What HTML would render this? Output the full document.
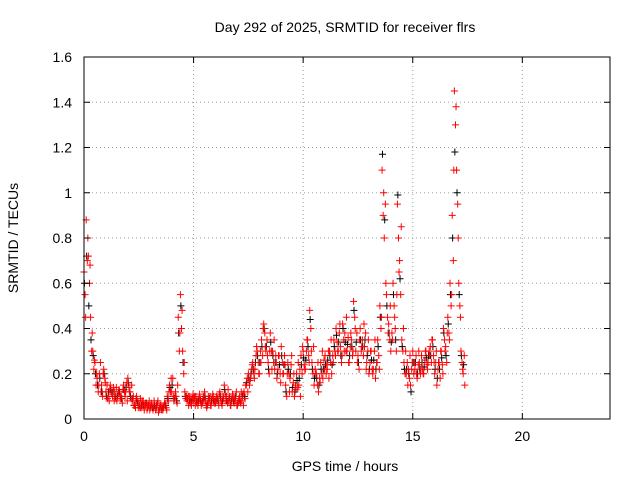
<!DOCTYPE html>
<html><head><meta charset="utf-8">
<style>
body{margin:0;background:#fff;}
svg{display:block;font-family:"Liberation Sans",sans-serif;}
</style></head>
<body>
<svg id="chart" width="640" height="480">
<text x="345" y="32" font-size="14" text-anchor="middle">Day 292 of 2025, SRMTID for receiver flrs</text>
<text x="345" y="471" font-size="14" text-anchor="middle">GPS time / hours</text>
<text x="18" y="238" font-size="14" text-anchor="middle" transform="rotate(-90 18 238)">SRMTID / TECUs</text>
<g id="grid"></g><g id="marks"></g><g id="axes"></g>
</svg>
<script>
const xTicks=[0,5,10,15,20];
const yTicks=[0,0.2,0.4,0.6,0.8,1,1.2,1.4,1.6];
const yTickLabels=["0","0.2","0.4","0.6","0.8","1","1.2","1.4","1.6"];
const tStart=0, tStep=0.1;
const redA=[0.65,0.88,0.72,0.45,0.3,0.25,0.18,0.2,0.15,0.22,
0.12,0.1,0.15,0.1,0.12,0.08,0.13,0.1,0.15,0.12,
0.18,0.12,0.08,0.06,0.1,0.07,0.05,0.08,0.06,0.05,
0.04,0.06,0.08,0.05,0.03,0.06,0.04,0.07,0.1,0.15,
0.12,0.08,0.1,0.45,0.55,0.3,0.12,0.08,0.1,0.06,
0.08,0.1,0.06,0.09,0.07,0.12,0.05,0.08,0.06,0.1,
0.07,0.09,0.12,0.06,0.15,0.1,0.08,0.06,0.1,0.08,
0.06,0.1,0.08,0.12,0.15,0.2,0.18,0.25,0.22,0.3,
0.2,0.35,0.42,0.3,0.25,0.38,0.3,0.22,0.18,0.28,
0.32,0.2,0.15,0.25,0.18,0.12,0.1,0.2,0.15,0.28,
0.3,0.22,0.35,0.48,0.25,0.15,0.2,0.12,0.25,0.18,
0.28,0.22,0.3,0.2,0.35,0.4,0.3,0.32,0.42,0.38,
0.3,0.25,0.35,0.52,0.3,0.28,0.4,0.35,0.32,0.25,
0.2,0.3,0.22,0.18,0.35,0.5,1.1,0.8,0.55,0.42,
0.3,0.6,0.4,0.95,0.7,0.35,0.25,0.2,0.22,0.15,
0.3,0.22,0.18,0.25,0.28,0.2,0.3,0.25,0.32,0.35,
0.2,0.15,0.25,0.3,0.4,0.32,0.45,0.6,0.9,1.45,
1.1,0.6,0.3,0.2];
const redB=[0.55,0.7,0.6,0.3,0.22,0.15,0.12,0.25,0.1,0.18,
0.15,0.08,0.12,0.14,0.09,0.11,0.1,0.07,0.12,0.16,
0.14,0.09,0.1,0.05,0.07,0.05,0.08,0.04,0.07,0.06,
0.06,0.04,0.05,0.07,0.05,0.04,0.06,0.05,0.08,0.12,
0.18,0.1,0.07,0.3,0.4,0.2,0.09,0.1,0.07,0.09,
0.1,0.07,0.09,0.06,0.1,0.08,0.07,0.1,0.09,0.07,
0.1,0.06,0.08,0.1,0.11,0.07,0.1,0.09,0.07,0.12,
0.08,0.07,0.11,0.09,0.18,0.15,0.22,0.2,0.28,0.25,
0.3,0.28,0.38,0.35,0.2,0.3,0.25,0.28,0.22,0.2,
0.25,0.28,0.1,0.2,0.24,0.16,0.15,0.14,0.22,0.2,
0.24,0.3,0.28,0.4,0.2,0.22,0.15,0.18,0.2,0.26,
0.2,0.3,0.25,0.28,0.3,0.34,0.38,0.25,0.35,0.3,
0.36,0.32,0.28,0.45,0.38,0.22,0.3,0.28,0.38,0.3,
0.25,0.22,0.3,0.25,0.28,0.4,0.9,0.95,0.45,0.35,
0.38,0.5,0.3,0.8,0.55,0.3,0.2,0.25,0.18,0.22,
0.2,0.28,0.24,0.2,0.22,0.26,0.24,0.3,0.25,0.28,
0.25,0.22,0.18,0.24,0.35,0.25,0.38,0.5,0.7,1.3,
0.95,0.5,0.25,0.28];
const redC=[0.45,0.8,0.68,0.38,0.26,0.2,0.15,0.12,0.2,0.16,
0.09,0.13,0.11,0.08,0.14,0.12,0.09,0.13,0.1,0.08,
0.12,0.15,0.06,0.09,0.05,0.09,0.06,0.06,0.04,0.08,
0.07,0.05,0.04,0.08,0.06,0.05,0.07,0.04,0.12,0.18,
0.1,0.12,0.15,0.38,0.48,0.25,0.1,0.06,0.09,0.11,
0.06,0.08,0.11,0.07,0.09,0.06,0.1,0.06,0.11,0.08,
0.09,0.11,0.07,0.09,0.08,0.13,0.06,0.11,0.09,0.06,
0.09,0.12,0.06,0.15,0.12,0.17,0.24,0.18,0.32,0.2,
0.25,0.4,0.32,0.28,0.3,0.22,0.35,0.25,0.28,0.16,
0.2,0.24,0.2,0.12,0.28,0.2,0.13,0.25,0.1,0.32,
0.22,0.35,0.25,0.3,0.32,0.2,0.25,0.16,0.3,0.22,
0.24,0.18,0.35,0.25,0.28,0.3,0.42,0.28,0.3,0.45,
0.25,0.38,0.3,0.4,0.25,0.35,0.32,0.42,0.22,0.35,
0.3,0.2,0.35,0.25,0.22,0.45,1.0,0.6,0.38,0.5,
0.35,0.45,0.55,0.65,0.85,0.4,0.3,0.15,0.28,0.25,
0.25,0.2,0.3,0.22,0.2,0.3,0.22,0.28,0.35,0.25,
0.3,0.25,0.3,0.2,0.3,0.38,0.35,0.55,1.1,1.38,
0.8,0.45,0.22,0.15];
const black=[0.6,0.72,0.5,0.35,0.28,0.2,0.15,0.18,0.12,0.2,
0.1,0.12,0.13,0.12,0.1,0.1,0.12,0.09,0.13,0.14,
0.16,0.1,0.09,0.06,0.08,0.06,0.06,0.06,0.07,0.06,
0.05,0.05,0.06,0.06,0.04,0.05,0.05,0.06,0.09,0.14,
0.15,0.09,0.08,0.38,0.5,0.25,0.1,0.09,0.08,0.08,
0.09,0.08,0.08,0.08,0.08,0.1,0.06,0.09,0.08,0.08,
0.08,0.08,0.1,0.08,0.13,0.08,0.09,0.08,0.08,0.1,
0.07,0.08,0.1,0.1,0.16,0.18,0.2,0.22,0.25,0.28,
0.25,0.32,0.4,0.32,0.22,0.34,0.28,0.25,0.2,0.24,
0.28,0.24,0.12,0.22,0.2,0.14,0.12,0.17,0.18,0.24,
0.27,0.26,0.32,0.44,0.22,0.18,0.18,0.15,0.22,0.22,
0.24,0.26,0.28,0.24,0.32,0.37,0.34,0.28,0.4,0.34,
0.33,0.28,0.32,0.48,0.34,0.25,0.35,0.32,0.35,0.28,
0.22,0.26,0.26,0.22,0.32,0.45,1.17,0.88,0.5,0.38,
0.34,0.55,0.35,0.99,0.62,0.32,0.22,0.22,0.2,0.12,
0.25,0.25,0.2,0.22,0.25,0.23,0.27,0.28,0.28,0.32,
0.22,0.18,0.22,0.27,0.38,0.28,0.42,0.55,0.8,1.18,
1.0,0.55,0.28,0.24];
const X0=84,X1=610,Y0=419,Y1=57;
const xScale=v=>X0+(v/24)*(X1-X0);
const yScale=v=>Y0-(v/1.6)*(Y0-Y1);
const NS="http://www.w3.org/2000/svg";
function mk(tag,attrs,parent){const e=document.createElementNS(NS,tag);for(const k in attrs)e.setAttribute(k,attrs[k]);parent.appendChild(e);return e;}
const grid=document.getElementById('grid'),axes=document.getElementById('axes'),marks=document.getElementById('marks');
xTicks.forEach((t,i)=>{const x=xScale(t);
 if(t>0){const g=mk('line',{x1:x,x2:x,y1:Y0,y2:Y1,stroke:'#a0a0a0','stroke-dasharray':'1,3'},grid);
 
 }
 const l=mk('text',{x:x,y:Y0+22,'font-size':14,'text-anchor':'middle'},axes);l.textContent=String(t);
 
 
 mk('line',{x1:x,x2:x,y1:Y0,y2:Y0-6,stroke:'#000'},axes);mk('line',{x1:x,x2:x,y1:Y1,y2:Y1+6,stroke:'#000'},axes);});
yTicks.forEach((t,i)=>{const y=yScale(t);
 if(t>0&&t<1.6){const g=mk('line',{x1:X0,x2:X1,y1:y,y2:y,stroke:'#a0a0a0','stroke-dasharray':'1,3'},grid);
 
 }
 const l=mk('text',{x:X0-12,y:y+5,'font-size':14,'text-anchor':'end'},axes);l.textContent=yTickLabels[i];
 
 
 mk('line',{x1:X0,x2:X0+6,y1:y,y2:y,stroke:'#000'},axes);mk('line',{x1:X1,x2:X1-6,y1:y,y2:y,stroke:'#000'},axes);});
const frame=mk('rect',{x:X0,y:Y1,width:X1-X0,height:Y0-Y1,fill:'none',stroke:'#000'},axes);


function plus(t,v,color,name){const x=xScale(t),y=yScale(v);
 const p=mk('path',{d:`M${x-3.5},${y}h7M${x},${y-3.5}v7`,stroke:color,'stroke-width':1,fill:'none'},marks);
 
 }
black.forEach((v,i)=>plus(tStart+i*tStep+0.02,v,'#000','point-black'));
redA.forEach((v,i)=>plus(tStart+i*tStep,v,'#f00','point-red'));
redB.forEach((v,i)=>plus(tStart+i*tStep+0.05,v,'#f00','point-red'));
redC.forEach((v,i)=>plus(tStart+i*tStep+0.075,v,'#f00','point-red'));
</script>
</body></html>
